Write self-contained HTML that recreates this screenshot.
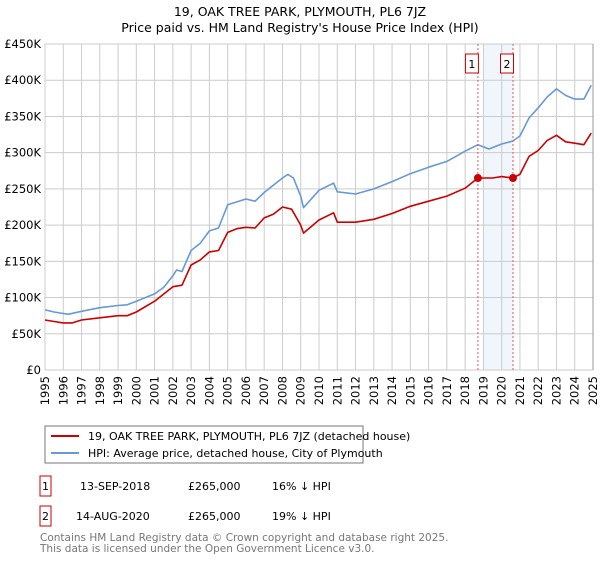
<!DOCTYPE html>
<html><head><meta charset="utf-8"><style>
body{margin:0;background:#fff;font-family:"DejaVu Sans","Liberation Sans",sans-serif;}
svg text{font-family:"DejaVu Sans","Liberation Sans",sans-serif;}
</style></head><body>
<svg id="c" width="600" height="560" viewBox="0 0 600 560" xmlns="http://www.w3.org/2000/svg">
<text x="300" y="16" text-anchor="middle" font-size="12.5">19, OAK TREE PARK, PLYMOUTH, PL6 7JZ</text>
<text x="300" y="32" text-anchor="middle" font-size="12.5">Price paid vs. HM Land Registry's House Price Index (HPI)</text>
<g id="grid"></g><g id="marks"></g>
<g>
<rect x="45" y="426" width="318" height="37" fill="#fff" stroke="#777"/>
<line x1="51" y1="436" x2="79" y2="436" stroke="#cc0000" stroke-width="2"/>
<text x="88" y="440" font-size="11">19, OAK TREE PARK, PLYMOUTH, PL6 7JZ (detached house)</text>
<line x1="51" y1="453" x2="79" y2="453" stroke="#6699d8" stroke-width="2"/>
<text x="88" y="457" font-size="11">HPI: Average price, detached house, City of Plymouth</text>
</g>
<g font-size="11">
<rect x="40" y="476" width="11" height="20" fill="#fff" stroke="#cc0000"/>
<text x="45.5" y="490" text-anchor="middle">1</text>
<text x="80" y="490">13-SEP-2018</text><text x="188" y="490">£265,000</text><text x="272" y="490">16% ↓ HPI</text>
<rect x="40" y="506" width="11" height="20" fill="#fff" stroke="#cc0000"/>
<text x="45.5" y="520" text-anchor="middle">2</text>
<text x="76" y="520">14-AUG-2020</text><text x="188" y="520">£265,000</text><text x="272" y="520">19% ↓ HPI</text>
</g>
<text x="40" y="541" font-size="10.5" fill="#777">Contains HM Land Registry data © Crown copyright and database right 2025.</text>
<text x="40" y="552" font-size="10.5" fill="#777">This data is licensed under the Open Government Licence v3.0.</text>
</svg>
<script>
const yTicks=[0,50,100,150,200,250,300,350,400,450];
const yTickLabels=["£0","£50K","£100K","£150K","£200K","£250K","£300K","£350K","£400K","£450K"];
const xYears=[1995,1996,1997,1998,1999,2000,2001,2002,2003,2004,2005,2006,2007,2008,2009,2010,2011,2012,2013,2014,2015,2016,2017,2018,2019,2020,2021,2022,2023,2024,2025];
const hpiT=[1995,1995.5,1996,1996.3,1997,1998,1999,1999.5,2000,2001,2001.5,2002,2002.2,2002.5,2003,2003.5,2004,2004.5,2005,2005.5,2006,2006.5,2007,2007.5,2008,2008.3,2008.6,2009,2009.15,2010,2010.8,2011,2012,2013,2014,2015,2016,2017,2018,2018.7,2019.3,2020,2020.6,2021,2021.5,2022,2022.5,2023,2023.5,2024,2024.5,2024.9];
const hpiV=[83,80,78,77,81,86,89,90,95,105,114,130,138,136,165,175,192,196,228,232,236,233,245,255,265,270,265,240,224,248,258,246,243,250,260,271,280,288,302,311,305,312,316,323,348,362,377,388,379,374,374,393];
const ppT=[1995,1995.5,1996,1996.5,1997,1998,1999,1999.5,2000,2001,2002,2002.5,2003,2003.5,2004,2004.5,2005,2005.5,2006,2006.5,2007,2007.5,2008,2008.5,2009,2009.15,2010,2010.8,2011,2012,2013,2014,2015,2016,2017,2018,2018.7,2019.5,2020,2020.6,2021,2021.5,2022,2022.5,2023,2023.5,2024,2024.5,2024.9];
const ppV=[69,67,65,65,69,72,75,75,80,95,115,117,145,152,163,165,190,195,197,196,210,215,225,222,200,189,207,217,204,204,208,216,226,233,240,251,265,265,267,265,270,295,303,317,324,315,313,311,327];
const saleT=[2018.70,2020.62];
const saleV=[265,265];
const shadeRange=[2019.0,2020.62];
const X0=45,X1=593,Y0=370,Y1=44;
const x=t=>X0+(t-1995)/30*(X1-X0);
const y=v=>Y0-v/450*(Y0-Y1);
const NS="http://www.w3.org/2000/svg";
function mk(p,tag,a){const e=document.createElementNS(NS,tag);for(const k in a)e.setAttribute(k,a[k]);p.appendChild(e);return e;}
const g=document.getElementById('grid'),m=document.getElementById('marks');
const sh=mk(g,'rect',{x:x(shadeRange[0]),y:Y1,width:x(shadeRange[1])-x(shadeRange[0]),height:Y0-Y1,fill:'#eef3fb',opacity:0.8});


yTicks.forEach((v,i)=>{
 const l=mk(g,'line',{x1:X0,x2:X1,y1:y(v),y2:y(v),stroke:'#ccc'});
 
 
 const t=mk(g,'text',{x:X0-4,y:y(v)+4,'text-anchor':'end','font-size':11.5});
 t.textContent=yTickLabels[i];
 
 
});
xYears.forEach(yr=>{
 const l=mk(g,'line',{x1:x(yr),x2:x(yr),y1:Y1,y2:Y0,stroke:'#ccc'});
 
 
 const t=mk(g,'text',{x:0,y:0,'text-anchor':'end','font-size':11.5,transform:`translate(${x(yr)+4},${Y0+6}) rotate(-90)`});
 t.textContent=yr;
 
 
});
function path(T,V,col,name){
 const d=T.map((t,i)=>(i?'L':'M')+x(t).toFixed(1)+','+y(V[i]).toFixed(1)).join('');
 const p=mk(m,'path',{d:d,fill:'none',stroke:col,'stroke-width':1.6,'stroke-linejoin':'round'});
 
 
}
path(hpiT,hpiV,'#6699d8','hpi-line');
path(ppT,ppV,'#cc0000','price-paid-line');
saleT.forEach((t,i)=>{
 const l=mk(m,'line',{x1:x(t),x2:x(t),y1:Y1,y2:Y0,stroke:'#ee5555','stroke-dasharray':'2,2'});
 
 
 const c=mk(m,'circle',{cx:x(t),cy:y(saleV[i]),r:4,fill:'#cc0000'});
 
 
 const r=mk(m,'rect',{x:x(t)-12.5,y:54,width:13,height:19,fill:'#fff',stroke:'#cc0000'});
 
 
 const tx=mk(m,'text',{x:x(t)-6,y:68,'text-anchor':'middle','font-size':11});
 tx.textContent=String(i+1);
 
 
});
const ax=mk(m,'line',{x1:X1,x2:X1,y1:Y1,y2:Y0,stroke:'#999'});


</script>
</body></html>
